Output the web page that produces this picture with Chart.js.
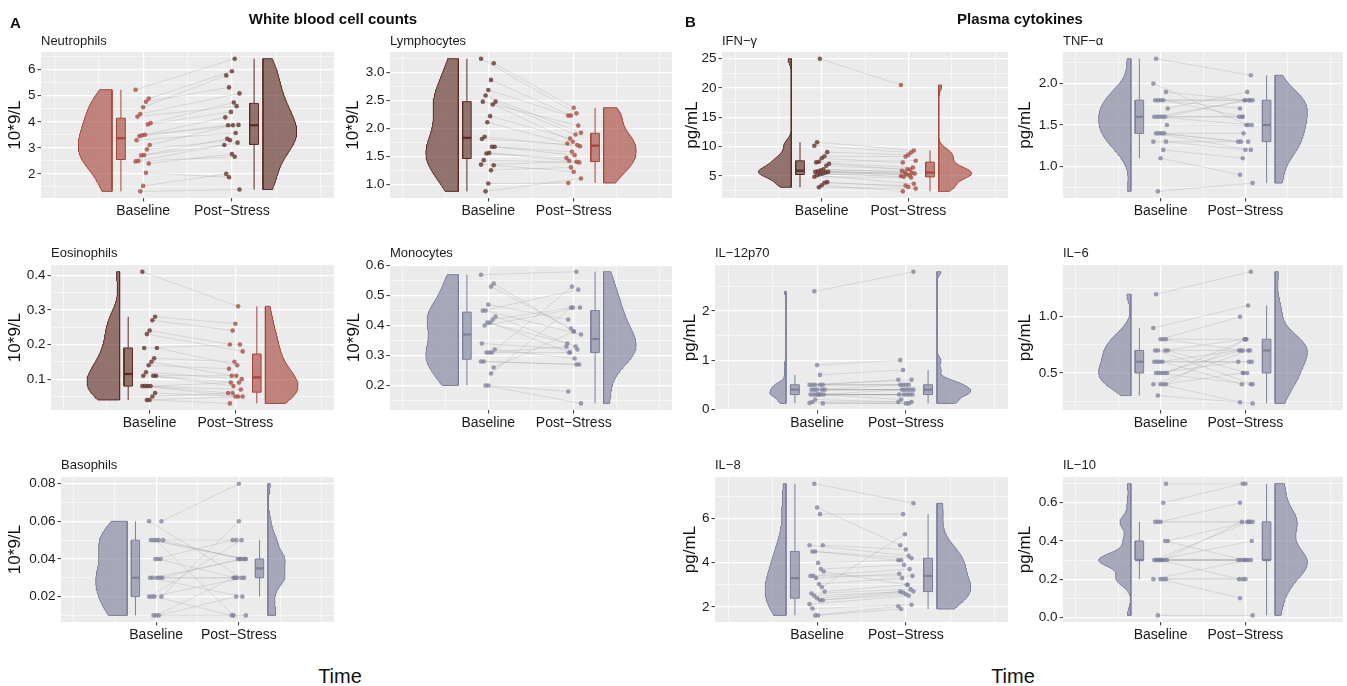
<!DOCTYPE html>
<html>
<head>
<meta charset="utf-8">
<script src="https://cdn.jsdelivr.net/npm/chart.js@4.4.1/dist/chart.umd.min.js"></script>
<style>
  body { margin: 0; background: #fff; width: 1347px; height: 686px; position: relative; overflow: hidden;
         font-family: "Liberation Sans", Arial, Helvetica, sans-serif; color: #111; }
  canvas { position: absolute; }
  .lbl { position: absolute; white-space: nowrap; line-height: 1; }
</style>
</head>
<body>
<script>
// ---- values (one entry per subject, baseline -> post-stress pairs) ----
const groupLabels = ['Baseline', 'Post\u2212Stress'];

const neutroBase = [1.33,1.54,2.04,2.40,2.48,2.50,2.71,2.72,2.94,3.11,3.29,3.45,3.48,3.50,3.90,3.95,4.20,4.30,4.56,4.77,4.89,5.23];
const neutroPost = [1.40,2.00,1.87,2.76,2.66,3.20,3.11,3.35,3.29,3.87,3.57,3.88,4.17,3.87,4.38,4.74,4.60,5.09,5.78,5.32,5.94,6.42];
const neutroTicks = [2, 3, 4, 5, 6];
const neutroTickLabels = ['2', '3', '4', '5', '6'];

const lymphoBase = [0.87,1.01,1.25,1.34,1.35,1.43,1.55,1.56,1.67,1.67,1.81,1.85,2.11,2.22,2.43,2.48,2.48,2.59,2.69,2.87,3.17,3.25];
const lymphoPost = [1.10,1.02,1.30,1.22,1.40,1.39,1.47,1.42,1.58,1.52,1.70,1.68,1.73,1.82,1.76,1.89,2.05,1.92,2.23,2.23,2.37,2.27];
const lymphoTicks = [1, 1.5, 2, 2.5, 3];
const lymphoTickLabels = ['1.0', '1.5', '2.0', '2.5', '3.0'];

const eosinoBase = [0.04,0.04,0.05,0.06,0.08,0.08,0.08,0.08,0.11,0.11,0.11,0.12,0.14,0.15,0.16,0.19,0.19,0.23,0.24,0.27,0.28,0.41];
const eosinoPost = [0.05,0.03,0.06,0.05,0.05,0.07,0.06,0.09,0.08,0.11,0.09,0.10,0.13,0.11,0.15,0.14,0.20,0.18,0.20,0.24,0.26,0.31];
const eosinoTicks = [0.1, 0.2, 0.3, 0.4];
const eosinoTickLabels = ['0.1', '0.2', '0.3', '0.4'];

const monoBase = [0.20,0.20,0.24,0.26,0.28,0.28,0.31,0.31,0.31,0.32,0.34,0.40,0.41,0.41,0.42,0.43,0.45,0.45,0.47,0.53,0.54,0.57];
const monoPost = [0.14,0.18,0.46,0.38,0.27,0.27,0.33,0.31,0.53,0.29,0.32,0.46,0.34,0.31,0.46,0.33,0.52,0.37,0.42,0.39,0.38,0.58];
const monoTicks = [0.2, 0.3, 0.4, 0.5, 0.6];
const monoTickLabels = ['0.2', '0.3', '0.4', '0.5', '0.6'];

const basoBase = [0.01,0.01,0.01,0.02,0.02,0.02,0.02,0.03,0.03,0.03,0.03,0.03,0.04,0.04,0.04,0.05,0.05,0.05,0.05,0.05,0.06,0.06];
const basoPost = [0.01,0.03,0.02,0.06,0.05,0.03,0.01,0.03,0.03,0.04,0.02,0.04,0.05,0.03,0.04,0.04,0.04,0.04,0.01,0.05,0.08,0.03];
const basoTicks = [0.02, 0.04, 0.06, 0.08];
const basoTickLabels = ['0.02', '0.04', '0.06', '0.08'];

const ifnBase = [3.08,3.43,3.84,3.95,4.88,5.12,5.29,5.41,5.58,5.70,5.70,5.82,5.99,6.16,6.74,7.09,7.33,7.44,8.02,8.37,9.07,10.17,10.76,25.0];
const ifnPost = [2.85,2.38,3.37,3.14,4.75,3.66,5.00,4.88,5.29,5.15,5.52,5.41,5.87,5.65,6.16,6.05,6.45,7.60,7.30,8.31,8.60,9.00,9.36,20.52];
const ifnTicks = [5, 10, 15, 20, 25];
const ifnTickLabels = ['5', '10', '15', '20', '25'];

const tnfBase = [0.7,1.1,1.2,1.3,1.3,1.4,1.4,1.4,1.4,1.5,1.6,1.6,1.6,1.6,1.6,1.7,1.8,1.8,1.8,1.8,1.9,2.0,2.3];
const tnfPost = [0.8,0.9,1.1,1.2,1.3,1.2,1.3,1.3,1.4,1.5,1.8,1.5,1.6,1.6,1.8,1.9,1.8,1.8,1.7,1.6,1.8,1.5,2.1];
const tnfTicks = [1, 1.5, 2];
const tnfTickLabels = ['1.0', '1.5', '2.0'];

const il12Base = [2.4,0.9,0.7,0.12,0.13,0.15,0.2,0.3,0.3,0.3,0.3,0.3,0.3,0.3,0.4,0.4,0.4,0.4,0.4,0.5,0.5,0.5,0.5,0.5];
const il12Post = [2.8,1.0,0.8,0.12,0.12,0.15,0.15,0.2,0.3,0.3,0.3,0.3,0.3,0.4,0.4,0.4,0.4,0.4,0.5,0.5,0.5,0.5,0.6,0.6];
const il12Ticks = [0, 1, 2];
const il12TickLabels = ['0', '1', '2'];

const il6Base = [0.3,0.4,0.4,0.4,0.4,0.5,0.5,0.5,0.5,0.5,0.6,0.6,0.6,0.6,0.7,0.7,0.7,0.7,0.8,0.8,0.8,0.9,1.2];
const il6Post = [0.23,0.24,0.5,0.8,0.7,0.4,0.6,0.7,0.5,0.8,0.6,0.6,0.7,0.4,0.8,0.5,0.7,0.4,1.0,0.7,0.8,1.1,1.4];
const il6Ticks = [0.5, 1];
const il6TickLabels = ['0.5', '1.0'];

const il8Base = [7.58,6.5,6.2,4.79,4.79,4.51,4.51,3.99,3.71,3.6,3.4,3.4,3.3,3.03,2.9,2.69,2.6,2.5,2.39,2.3,2.3,2.12,1.92,1.61,1.61];
const il8Post = [6.69,4.79,6.2,4.6,4.31,4.2,4.11,4.11,3.9,3.0,3.71,3.4,3.5,3.3,5.29,3.0,2.8,2.7,2.69,2.65,2.57,2.5,2.09,2.02,1.9];
const il8Ticks = [2, 4, 6];
const il8TickLabels = ['2', '4', '6'];

const il10Base = [0.01,0.2,0.2,0.2,0.2,0.3,0.3,0.3,0.3,0.3,0.3,0.3,0.3,0.3,0.4,0.4,0.5,0.5,0.5,0.6,0.7];
const il10Post = [0.01,0.1,0.2,0.2,0.3,0.3,0.3,0.3,0.3,0.3,0.5,0.4,0.2,0.5,0.3,0.5,0.5,0.5,0.6,0.7,0.7];
const il10Ticks = [0, 0.2, 0.4, 0.6];
const il10TickLabels = ['0.0', '0.2', '0.4', '0.6'];

// ---- layout ----
const FONT = '"Liberation Sans", Arial, Helvetica, sans-serif';
Chart.defaults.font.family = FONT;

const rows = [
  { top: 52, bottom: 198, title: 40 },
  { top: 265, bottom: 410, title: 252 },
  { top: 477, bottom: 622, title: 464 }
];
const PADT = 10, PADR = 5, XAXH = 24;

const palette = {
  light: [164, 70, 58],
  dark: [92, 42, 34],
  gray: [125, 128, 155]
};

const panels = [
  { title: 'Neutrophils', unit: '10*9/L', base: neutroBase, post: neutroPost, ticks: neutroTicks, labels: neutroTickLabels,
    colors: ['light', 'dark'], widths: [1, 1], bwAdjust: [1, 1], row: 0, left: 0, plotLeft: 41, plotRight: 334, titleOff: 15 },
  { title: 'Lymphocytes', unit: '10*9/L', base: lymphoBase, post: lymphoPost, ticks: lymphoTicks, labels: lymphoTickLabels,
    colors: ['dark', 'light'], widths: [1, 1], bwAdjust: [1, 1], row: 0, left: 340, plotLeft: 390, plotRight: 672, titleOff: 13 },
  { title: 'Eosinophils', unit: '10*9/L', base: eosinoBase, post: eosinoPost, ticks: eosinoTicks, labels: eosinoTickLabels,
    colors: ['dark', 'light'], widths: [1, 1], bwAdjust: [1, 1], row: 1, left: 0, plotLeft: 51, plotRight: 334, titleOff: 15 },
  { title: 'Monocytes', unit: '10*9/L', base: monoBase, post: monoPost, ticks: monoTicks, labels: monoTickLabels,
    colors: ['gray', 'gray'], widths: [1, 1], bwAdjust: [1, 1], row: 1, left: 340, plotLeft: 390, plotRight: 672, titleOff: 14 },
  { title: 'Basophils', unit: '10*9/L', base: basoBase, post: basoPost, ticks: basoTicks, labels: basoTickLabels,
    colors: ['gray', 'gray'], widths: [1, 0.55], bwAdjust: [1, 1.3], row: 2, left: 0, plotLeft: 61, plotRight: 334, titleOff: 15 },
  { title: 'IFN\u2212\u03b3', unit: 'pg/mL', base: ifnBase, post: ifnPost, ticks: ifnTicks, labels: ifnTickLabels,
    colors: ['dark', 'light'], widths: [1, 1], bwAdjust: [1, 1], row: 0, left: 680, plotLeft: 722, plotRight: 1008, titleOff: 12 },
  { title: 'TNF\u2212\u03b1', unit: 'pg/mL', base: tnfBase, post: tnfPost, ticks: tnfTicks, labels: tnfTickLabels,
    colors: ['gray', 'gray'], widths: [1, 1], bwAdjust: [1, 1], row: 0, left: 1010, plotLeft: 1063, plotRight: 1343, titleOff: 15 },
  { title: 'IL\u221212p70', unit: 'pg/mL', base: il12Base, post: il12Post, ticks: il12Ticks, labels: il12TickLabels,
    colors: ['gray', 'gray'], widths: [0.48, 1], bwAdjust: [1, 1], row: 1, left: 680, plotLeft: 715, plotRight: 1008, titleOff: 10 },
  { title: 'IL\u22126', unit: 'pg/mL', base: il6Base, post: il6Post, ticks: il6Ticks, labels: il6TickLabels,
    colors: ['gray', 'gray'], widths: [1, 1], bwAdjust: [1, 1], row: 1, left: 1010, plotLeft: 1063, plotRight: 1343, titleOff: 15 },
  { title: 'IL\u22128', unit: 'pg/mL', base: il8Base, post: il8Post, ticks: il8Ticks, labels: il8TickLabels,
    colors: ['gray', 'gray'], widths: [0.62, 1], bwAdjust: [1, 1], row: 2, left: 680, plotLeft: 715, plotRight: 1008, titleOff: 10 },
  { title: 'IL\u221210', unit: 'pg/mL', base: il10Base, post: il10Post, ticks: il10Ticks, labels: il10TickLabels,
    colors: ['gray', 'gray'], widths: [1, 1], bwAdjust: [1, 1], row: 2, left: 1010, plotLeft: 1063, plotRight: 1343, titleOff: 15 }
];

// ---- helpers ----
function rgba(c, a) { return 'rgba(' + c[0] + ',' + c[1] + ',' + c[2] + ',' + a + ')'; }

function quantile(s, p) {
  const h = (s.length - 1) * p;
  const lo = Math.floor(h);
  const hi = Math.min(lo + 1, s.length - 1);
  return s[lo] + (h - lo) * (s[hi] - s[lo]);
}

function boxStats(vals) {
  const s = [...vals].sort((a, b) => a - b);
  const q1 = quantile(s, 0.25), med = quantile(s, 0.5), q3 = quantile(s, 0.75);
  const iqr = q3 - q1;
  const lo = s.find(v => v >= q1 - 1.5 * iqr - 1e-9);
  const hi = [...s].reverse().find(v => v <= q3 + 1.5 * iqr + 1e-9);
  return { q1, med, q3, lo, hi };
}

// Silverman's rule (R's bw.nrd0), as used by ggplot's violins
function bandwidth(s) {
  const n = s.length;
  const mean = s.reduce((a, b) => a + b, 0) / n;
  const sd = Math.sqrt(s.reduce((a, b) => a + (b - mean) * (b - mean), 0) / (n - 1));
  let lo = Math.min(sd, (quantile(s, 0.75) - quantile(s, 0.25)) / 1.34);
  if (!(lo > 0)) lo = sd || Math.abs(s[0]) || 1;
  return 0.9 * lo * Math.pow(n, -0.2);
}

function violinPoints(vals, flatX, dir, width, adjust) {
  const s = [...vals].sort((a, b) => a - b);
  const bw = bandwidth(s) * adjust;
  const ymin = s[0], ymax = s[s.length - 1];
  const steps = 140;
  const ys = [], dens = [];
  for (let k = 0; k <= steps; k++) {
    const y = ymin + (ymax - ymin) * k / steps;
    let d = 0;
    s.forEach(v => { const z = (y - v) / bw; d += Math.exp(-0.5 * z * z); });
    ys.push(y); dens.push(d);
  }
  const dmax = Math.max(...dens);
  const pts = [{ x: flatX, y: ymin }];
  ys.forEach((y, k) => pts.push({ x: flatX + dir * width * dens[k] / dmax, y: y }));
  pts.push({ x: flatX, y: ymax });
  pts.push({ x: flatX, y: ymin });
  return pts;
}

function jitter(i, g) { return (((i * 37 + g * 11 + 5) % 17) / 16 - 0.5) * 0.17; }

// major breaks + ggplot-style minor breaks (half steps, one step past the ends)
function gridValues(majors, min, max) {
  const step = majors[1] - majors[0];
  const ext = [majors[0] - step, ...majors, majors[majors.length - 1] + step];
  const out = [];
  for (let i = 0; i < ext.length; i++) {
    out.push(ext[i]);
    if (i < ext.length - 1) out.push((ext[i] + ext[i + 1]) / 2);
  }
  return out.filter(v => v >= min && v <= max);
}

function isIn(arr, v) { return arr.some(m => Math.abs(m - v) < 1e-9); }

function lineSet(data, color, width, order, extra) {
  return Object.assign({ data: data, showLine: true, borderColor: color, borderWidth: width,
    pointRadius: 0, pointHoverRadius: 0, fill: false, order: order }, extra || {});
}

function buildDatasets(p) {
  const ds = [];
  [p.base, p.post].forEach((vals, g) => {
    const col = palette[p.colors[g]];
    const dir = g === 0 ? -1 : 1;
    const center = g + 1;
    const flat = center + dir * 0.35;
    const bx = center + dir * 0.25;
    const st = boxStats(vals);

    ds.push(lineSet(violinPoints(vals, flat, dir, 0.38 * p.widths[g], p.bwAdjust[g]), rgba(col, 1), 1, 6,
      { fill: 'shape', backgroundColor: rgba(col, 0.63) }));
    ds.push(lineSet([{ x: bx, y: st.lo }, { x: bx, y: st.q1 }], rgba(col, 1), 1, 5));
    ds.push(lineSet([{ x: bx, y: st.q3 }, { x: bx, y: st.hi }], rgba(col, 1), 1, 5));
    ds.push(lineSet([{ x: bx - 0.05, y: st.q1 }, { x: bx + 0.05, y: st.q1 }, { x: bx + 0.05, y: st.q3 },
      { x: bx - 0.05, y: st.q3 }, { x: bx - 0.05, y: st.q1 }], rgba(col, 1), 1, 4,
      { fill: 'shape', backgroundColor: rgba(col, 0.63) }));
    ds.push(lineSet([{ x: bx - 0.05, y: st.med }, { x: bx + 0.05, y: st.med }], rgba(col, 1), 2.2, 3));
    ds.push({ data: vals.map((v, i) => ({ x: center + jitter(i, g), y: v })), showLine: false,
      pointRadius: 2.3, pointHoverRadius: 2.3, pointBorderWidth: 0,
      pointBackgroundColor: rgba(col, 0.75), order: 1 });
  });
  p.base.forEach((v, i) => {
    ds.push(lineSet([{ x: 1 + jitter(i, 0), y: v }, { x: 2 + jitter(i, 1), y: p.post[i] }],
      'rgba(150,150,150,0.32)', 0.8, 2));
  });
  return ds;
}

const panelBg = {
  id: 'panelBg',
  beforeDraw(chart) {
    const a = chart.chartArea, ctx = chart.ctx;
    ctx.save();
    ctx.fillStyle = '#EBEBEB';
    ctx.fillRect(a.left, a.top, a.right - a.left, a.bottom - a.top);
    ctx.restore();
  }
};

function addLabel(text, x, y, size, opts) {
  opts = opts || {};
  const d = document.createElement('div');
  d.className = 'lbl';
  d.textContent = text;
  d.style.left = x + 'px';
  d.style.top = y + 'px';
  d.style.fontSize = size + 'px';
  if (opts.bold) d.style.fontWeight = 'bold';
  d.style.transform = opts.center ? 'translate(-50%,-50%)' : 'translate(0,-50%)';
  d.style.color = opts.color || '#111';
  document.body.appendChild(d);
}

const xMajors = [1, 2];
const xGrid = gridValues(xMajors, -0.15, 3.15);

panels.forEach(p => {
  const r = rows[p.row];
  const all = p.base.concat(p.post);
  const lo = Math.min(...all), hi = Math.max(...all);
  const yMin = lo - 0.05 * (hi - lo), yMax = hi + 0.05 * (hi - lo);
  const yGrid = gridValues(p.ticks, yMin, yMax);

  const canvas = document.createElement('canvas');
  canvas.width = p.plotRight + PADR - p.left;
  canvas.height = (r.bottom - r.top) + PADT + XAXH;
  canvas.style.left = p.left + 'px';
  canvas.style.top = (r.top - PADT) + 'px';
  document.body.appendChild(canvas);

  new Chart(canvas.getContext('2d'), {
    type: 'scatter',
    data: { datasets: buildDatasets(p) },
    plugins: [panelBg],
    options: {
      responsive: false,
      animation: false,
      devicePixelRatio: 1,
      events: [],
      layout: { padding: { left: 0, right: PADR, top: PADT, bottom: 0 } },
      plugins: { legend: { display: false }, tooltip: { enabled: false } },
      scales: {
        x: {
          type: 'linear', min: -0.15, max: 3.15, bounds: 'data',
          afterBuildTicks: ax => { ax.ticks = xGrid.map(v => ({ value: v })); },
          afterFit: s => { s.height = XAXH; },
          border: { display: false },
          grid: {
            color: '#ffffff',
            lineWidth: c => (c.tick && isIn(xMajors, c.tick.value)) ? 1.2 : 0.55,
            tickColor: c => (c.tick && isIn(xMajors, c.tick.value)) ? '#333333' : 'rgba(0,0,0,0)',
            tickWidth: 1, tickLength: 3.5
          },
          ticks: {
            autoSkip: false, maxRotation: 0, minRotation: 0, padding: 1, color: '#1a1a1a',
            font: { size: 14 },
            callback: v => isIn([1], v) ? groupLabels[0] : (isIn([2], v) ? groupLabels[1] : '')
          }
        },
        y: {
          type: 'linear', min: yMin, max: yMax, bounds: 'data',
          afterBuildTicks: ax => { ax.ticks = yGrid.map(v => ({ value: v })); },
          afterFit: s => { s.width = p.plotLeft - p.left; },
          border: { display: false },
          grid: {
            color: '#ffffff',
            lineWidth: c => (c.tick && isIn(p.ticks, c.tick.value)) ? 1.2 : 0.55,
            tickColor: c => (c.tick && isIn(p.ticks, c.tick.value)) ? '#333333' : 'rgba(0,0,0,0)',
            tickWidth: 1, tickLength: 3.5
          },
          ticks: {
            autoSkip: false, padding: 2, color: '#1a1a1a', font: { size: 13.5 },
            callback: v => {
              const i = p.ticks.findIndex(m => Math.abs(m - v) < 1e-9);
              return i >= 0 ? p.labels[i] : '';
            }
          },
          title: {
            display: true, text: p.unit, color: '#111', font: { size: 17 },
            padding: { top: Math.max(0, p.titleOff - 10.2), bottom: 0 }
          }
        }
      }
    }
  });

  addLabel(p.title, p.plotLeft, r.title, 13, { color: '#1a1a1a' });
});

// figure-level text
addLabel('A', 10, 22, 15, { bold: true });
addLabel('B', 685, 21, 15, { bold: true });
addLabel('White blood cell counts', 333, 18, 15, { bold: true, center: true });
addLabel('Plasma cytokines', 1020, 18, 15, { bold: true, center: true });
addLabel('Time', 340, 676, 20, { center: true });
addLabel('Time', 1013, 676, 20, { center: true });
</script>
</body>
</html>
